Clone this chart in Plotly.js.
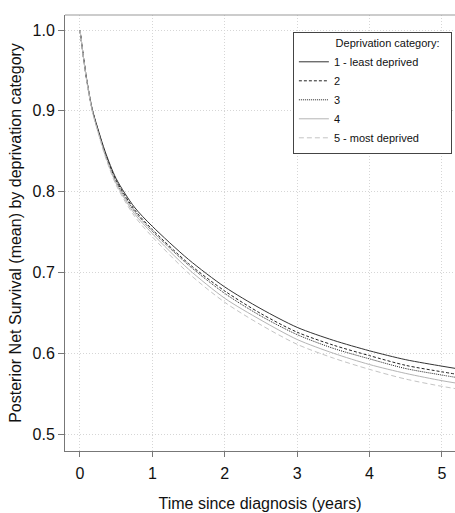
<!DOCTYPE html>
<html>
<head>
<meta charset="utf-8">
<script src="https://cdn.plot.ly/plotly-3.0.1.min.js"></script>
<style>html,body{margin:0;padding:0;background:#fff;}#chart{width:455px;height:513px;}</style>
</head>
<body>
<div id="chart"></div>
<script>
const timeYears = [0, 0.05, 0.1, 0.17, 0.25, 0.35, 0.5, 0.75, 1.0, 1.5, 2.0, 2.5, 3.0, 3.5, 4.0, 4.5, 5.0, 5.2];
const cat1 = [1.0, 0.965, 0.935, 0.902, 0.877, 0.849, 0.816, 0.781, 0.757, 0.716, 0.682, 0.655, 0.632, 0.616, 0.603, 0.592, 0.584, 0.581];
const cat2 = [1.0, 0.965, 0.934, 0.901, 0.876, 0.847, 0.814, 0.778, 0.753, 0.711, 0.677, 0.649, 0.626, 0.610, 0.597, 0.585, 0.577, 0.574];
const cat3 = [1.0, 0.965, 0.934, 0.901, 0.875, 0.846, 0.812, 0.776, 0.751, 0.709, 0.674, 0.646, 0.623, 0.606, 0.593, 0.581, 0.573, 0.570];
const cat4 = [1.0, 0.964, 0.934, 0.900, 0.874, 0.845, 0.810, 0.773, 0.748, 0.704, 0.668, 0.641, 0.617, 0.600, 0.586, 0.575, 0.566, 0.563];
const cat5 = [1.0, 0.964, 0.933, 0.899, 0.873, 0.843, 0.808, 0.770, 0.744, 0.699, 0.663, 0.635, 0.611, 0.594, 0.580, 0.568, 0.559, 0.556];
const categoryNames = ["1 - least deprived", "2", "3", "4", "5 - most deprived"];
const xTicks = [0, 1, 2, 3, 4, 5];
const yTicks = [0.5, 0.6, 0.7, 0.8, 0.9, 1.0];

const series = [cat1, cat2, cat3, cat4, cat5];
const styles = [
  {color: '#333333', dash: 'solid', width: 1},
  {color: '#222222', dash: '3px,2px', width: 1},
  {color: '#222222', dash: '1px,1px', width: 1},
  {color: '#b4b4b4', dash: 'solid', width: 1},
  {color: '#c4c4c4', dash: '5px,3px', width: 1}
];
const traces = series.map((ys, i) => ({
  x: timeYears, y: ys, type: 'scatter', mode: 'lines',
  name: categoryNames[i], line: Object.assign({shape: 'spline', smoothing: 0.8}, styles[i])
}));

const font = {family: '"Liberation Sans", Arial, sans-serif', color: '#111'};
const nb = '\u00a0';
const layout = {
  width: 455, height: 513,
  margin: {l: 65, r: 0, t: 15, b: 62, autoexpand: false},
  paper_bgcolor: '#fff', plot_bgcolor: '#fff',
  font: font,
  showlegend: true,
  xaxis: {
    range: [-0.207, 5.18], tickvals: xTicks, ticktext: xTicks.map(String),
    showline: true, linecolor: '#777', linewidth: 1,
    ticks: 'outside', ticklen: 5, tickcolor: '#777', ticklabelstandoff: 3,
    showgrid: true, gridcolor: '#d6d6d6', griddash: '1px,2px', gridwidth: 1,
    zeroline: false,
    tickfont: {size: 16, family: font.family, color: '#111'},
    title: {text: 'Time since diagnosis (years)', font: {size: 16, family: font.family, color: '#111'}, standoff: 16}
  },
  yaxis: {
    range: [0.479, 1.0186], tickvals: yTicks, ticktext: yTicks.map(v => v.toFixed(1)),
    showline: true, linecolor: '#777', linewidth: 1,
    ticks: 'outside', ticklen: 6, tickcolor: '#777',
    showgrid: true, gridcolor: '#d6d6d6', griddash: '1px,2px', gridwidth: 1,
    zeroline: false,
    tickfont: {size: 16, family: font.family, color: '#111'},
    title: {text: 'Posterior Net Survival (mean) by deprivation category', font: {size: 16, family: font.family, color: '#111'}, standoff: 6}
  },
  legend: {
    x: 0.992, y: 0.961, xanchor: 'right', yanchor: 'top',
    bgcolor: '#fff', bordercolor: '#444', borderwidth: 1,
    font: {size: 11, family: font.family, color: '#111'},
    title: {text: nb.repeat(13) + 'Deprivation category:' + nb.repeat(3), font: {size: 11, family: font.family, color: '#111'}},
    tracegroupgap: 0
  },
  shapes: [{type: 'line', xref: 'paper', yref: 'paper', x0: 0, x1: 1, y0: 1, y1: 1, line: {color: '#999', width: 1}}]
};
Plotly.newPlot('chart', traces, layout, {displayModeBar: false, staticPlot: true});
</script>
</body>
</html>
